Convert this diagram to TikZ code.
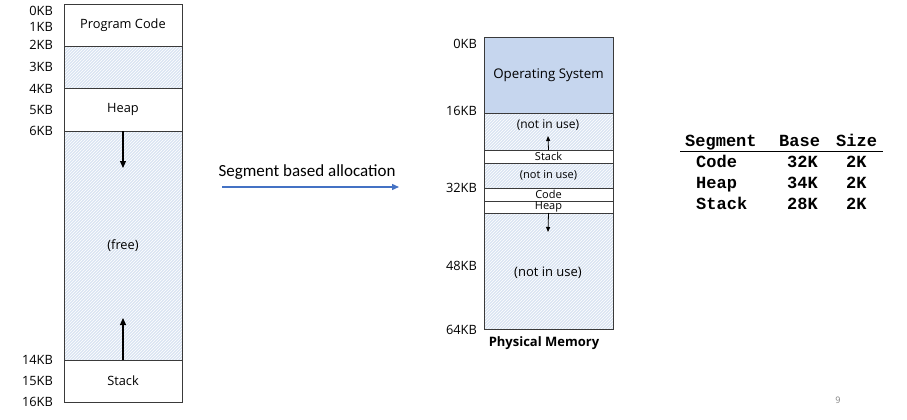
\documentclass[tikz,border=0pt]{standalone}
\usepackage{fontspec}
\setmainfont{Open Sans}
\newfontfamily\calib{Carlito}
\newfontfamily\mono{Liberation Mono}
\usetikzlibrary{patterns,arrows.meta}
\definecolor{osblue}{HTML}{C6D6EE}
\definecolor{hatchbg}{HTML}{DAE4F3}
\definecolor{linegray}{HTML}{3A3A3A}
\definecolor{arrowblue}{HTML}{4472C4}
\tikzset{
  seg/.style={draw=linegray, line width=0.9pt, anchor=north west, minimum width=#1, inner sep=0pt, outer sep=0pt, font=\fontsize{12.8}{14}\selectfont},
  seg/.default=118pt,
  hatched/.style={preaction={fill=hatchbg}, preaction={pattern=north east lines, pattern color=white}},
  kb/.style={anchor=east, inner sep=0pt, font=\fontsize{12.8}{14}\selectfont},
  txt/.style={inner sep=0pt, font=\fontsize{12.8}{14}\selectfont},
  thin/.style={font=\fontsize{11}{12}\selectfont},
  arr/.style={-{Triangle[length=7pt,width=6pt]}, line width=1.1pt, black},
  sarr/.style={-{Triangle[length=5pt,width=4pt]}, line width=0.8pt, black},
  tab/.style={inner sep=0pt, anchor=base west, font=\mono\bfseries\fontsize{17}{19}\selectfont}
}
\begin{document}
\begin{tikzpicture}[x=1pt,y=-1pt]
\useasboundingbox (0,0) rectangle (907,420);
% left address space
\node[seg, minimum height=42pt] (code) at (64,4) {Program Code};
\node[seg, hatched, minimum height=42pt] (gap) at (64,46) {};
\node[seg, minimum height=43pt] (heap) at (64,88) {Heap};
\node[seg, hatched, minimum height=229pt] (free) at (64,131) {(free)};
\node[seg, minimum height=42pt] (stack) at (64,360) {Stack};
\coordinate (hdown) at (123,168);
\coordinate (sup) at (123,318);
\draw[arr] (free.north) -- (hdown);
\draw[arr] (free.south) -- (sup);
% left labels
\node[kb] (l0) at (53,11) {0KB};
\node[kb] (l1) at (53,27) {1KB};
\node[kb] (l2) at (53,45) {2KB};
\node[kb] (l3) at (53,67) {3KB};
\node[kb] (l4) at (53,89) {4KB};
\node[kb] (l5) at (53,110) {5KB};
\node[kb] (l6) at (53,131) {6KB};
\node[kb] (l14) at (53,360) {14KB};
\node[kb] (l15) at (53,381) {15KB};
\node[kb] (l16) at (53,402) {16KB};
% transition arrow
\node[inner sep=0pt, font=\calib\fontsize{17}{19}\selectfont] (lbl) at (307,172) {Segment based allocation};
\coordinate (as) at (222,187);
\coordinate (ae) at (399,187);
\draw[-{Triangle[length=7pt,width=6pt]}, line width=1.3pt, arrowblue] (as) -- (ae);
% physical memory
\node[seg=129pt, fill=osblue, minimum height=76pt, font=\fontsize{13.3}{15}\selectfont] (os) at (484,37) {Operating System};
\node[seg=129pt, hatched, minimum height=37pt] (nu1) at (484,113) {};
\node[seg=129pt, minimum height=13pt, thin] (pstack) at (484,150) {Stack};
\node[seg=129pt, hatched, minimum height=25pt, thin] (nu2) at (484,163) {(not in use)};
\node[seg=129pt, minimum height=13pt, thin] (pcode) at (484,188) {Code};
\node[seg=129pt, minimum height=12pt, thin] (pheap) at (484,201) {Heap};
\node[seg=129pt, hatched, minimum height=116pt] (nu3) at (484,213) {};
\node[txt, font=\fontsize{13}{15}\selectfont] (nu3t) at (548,273) {(not in use)};
\node[txt, font=\fontsize{12}{13}\selectfont] (nu1t) at (548,125) {(not in use)};
\coordinate (sup2) at (548,136);
\coordinate (hdown2) at (548,232);
\draw[sarr] (pstack.north) -- (sup2);
\draw[sarr] (pheap.south) -- (hdown2);
\node[kb] (r0) at (477,44) {0KB};
\node[kb] (r16) at (477,111) {16KB};
\node[kb] (r32) at (477,188) {32KB};
\node[kb] (r48) at (477,266) {48KB};
\node[kb] (r64) at (477,330) {64KB};
\node[txt, font=\bfseries\fontsize{13}{15}\selectfont] (pm) at (544,343) {Physical Memory};
% table
\node[tab] (h1) at (685,146.5) {Segment};
\node[tab] (h2) at (779,146.5) {Base};
\node[tab] (h3) at (836,146.5) {Size};
\coordinate (rl) at (680,151);
\coordinate (rr) at (883,151);
\draw[line width=1pt, black] (rl) -- (rr);
\node[tab] (c1) at (696,167.5) {Code};
\node[tab] (c2) at (787,167.5) {32K};
\node[tab] (c3) at (846,167.5) {2K};
\node[tab] (d1) at (696,188.5) {Heap};
\node[tab] (d2) at (787,188.5) {34K};
\node[tab] (d3) at (846,188.5) {2K};
\node[tab] (e1) at (696,209.5) {Stack};
\node[tab] (e2) at (787,209.5) {28K};
\node[tab] (e3) at (846,209.5) {2K};
\node[inner sep=0pt, text=gray, font=\fontsize{9}{10}\selectfont] (pg) at (838,400) {9};
\end{tikzpicture}
\end{document}
